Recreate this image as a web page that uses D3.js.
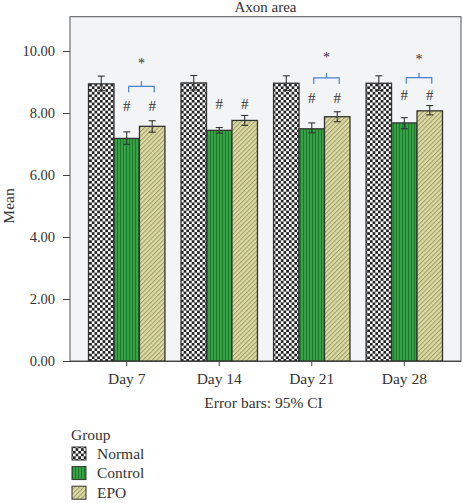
<!DOCTYPE html>
<html><head><meta charset="utf-8">
<script src="https://cdn.jsdelivr.net/npm/d3@7"></script>
<style>body{margin:0;background:#fff}svg{display:block}text{font-family:"Liberation Serif","DejaVu Serif",serif;fill:#333}</style>
</head><body>
<script>
const days = ["Day 7","Day 14","Day 21","Day 28"];
const groups = ["Normal","Control","EPO"];
const normalMean = [8.94, 8.97, 8.96, 8.96];
const normalLo   = [8.72, 8.74, 8.73, 8.73];
const normalHi   = [9.19, 9.21, 9.20, 9.20];
const controlMean = [7.18, 7.44, 7.49, 7.68];
const controlLo   = [6.99, 7.35, 7.36, 7.49];
const controlHi   = [7.39, 7.53, 7.68, 7.85];
const epoMean = [7.57, 7.76, 7.88, 8.07];
const epoLo   = [7.38, 7.60, 7.72, 7.94];
const epoHi   = [7.75, 7.92, 8.04, 8.24];
const yTicks = [0, 2, 4, 6, 8, 10];
const hashLevel = [8.16, 8.23, 8.42, 8.52];
const starDays = ["Day 7","Day 21","Day 28"];
const bracketLevel = [8.86, 9.13, 9.14];
const starLevel = [9.55, 9.75, 9.7];

const W = 463, H = 503;
const L = 70, R = 461, T = 16.7, B = 361;
const svg = d3.select("body").append("svg").attr("width", W).attr("height", H);
const defs = svg.append("defs");

// patterns
const pc = defs.append("pattern").attr("id","chk").attr("patternUnits","userSpaceOnUse").attr("width",5.4).attr("height",5.4);
pc.append("rect").attr("width",5.4).attr("height",5.4).attr("fill","#fff");
pc.append("rect").attr("width",2.7).attr("height",2.7).attr("fill","#222");
pc.append("rect").attr("x",2.7).attr("y",2.7).attr("width",2.7).attr("height",2.7).attr("fill","#222");

const pg = defs.append("pattern").attr("id","grn").attr("patternUnits","userSpaceOnUse").attr("width",3).attr("height",3);
pg.append("rect").attr("width",3).attr("height",3).attr("fill","#38a046");
pg.append("rect").attr("width",1).attr("height",3).attr("fill","#1c7a2b");

const pe = defs.append("pattern").attr("id","epo").attr("patternUnits","userSpaceOnUse").attr("width",3.2).attr("height",3.2).attr("patternTransform","rotate(-45)");
pe.append("rect").attr("width",3.2).attr("height",3.2).attr("fill","#dcdaa6");
pe.append("rect").attr("width",3.2).attr("height",1).attr("fill","#9e9b63");

const fills = {Normal:"url(#chk)", Control:"url(#grn)", EPO:"url(#epo)"};

const x0 = d3.scaleBand().domain(days).range([L, R]).paddingInner(0.174).paddingOuter(0.2);
const x1 = d3.scaleBand().domain(groups).range([0, x0.bandwidth()]);
const y = d3.scaleLinear().domain([0, 10]).range([B, B - 310]);

// plot background + frame
svg.append("rect").attr("x",L).attr("y",T).attr("width",R-L).attr("height",B-T)
  .attr("fill","#f3f4f6").attr("stroke","#555").attr("stroke-width",1);

const data = [];
days.forEach((d,i)=>{
  data.push({day:d, g:"Normal", m:normalMean[i], lo:normalLo[i], hi:normalHi[i]});
  data.push({day:d, g:"Control", m:controlMean[i], lo:controlLo[i], hi:controlHi[i]});
  data.push({day:d, g:"EPO", m:epoMean[i], lo:epoLo[i], hi:epoHi[i]});
});

svg.append("g").selectAll("rect").data(data).join("rect")
  .attr("x", d=>x0(d.day)+x1(d.g))
  .attr("y", d=>y(d.m))
  .attr("width", x1.bandwidth())
  .attr("height", d=>y(0)-y(d.m))
  .attr("fill", d=>fills[d.g])
  .attr("stroke","#333").attr("stroke-width",1.3);

// error bars
const eb = svg.append("g").attr("stroke","#333").attr("stroke-width",1.1).attr("fill","none");
data.forEach(d=>{
  const cx = x0(d.day)+x1(d.g)+x1.bandwidth()/2;
  eb.append("line").attr("x1",cx).attr("x2",cx).attr("y1",y(d.lo)).attr("y2",y(d.hi));
  eb.append("line").attr("x1",cx-3.5).attr("x2",cx+3.5).attr("y1",y(d.lo)).attr("y2",y(d.lo));
  eb.append("line").attr("x1",cx-3.5).attr("x2",cx+3.5).attr("y1",y(d.hi)).attr("y2",y(d.hi));
});

// axes
const yAxis = svg.append("g").attr("transform",`translate(${L},0)`)
  .call(d3.axisLeft(y).tickValues(yTicks).tickFormat(d3.format(".2f")).tickSize(7).tickPadding(8));
yAxis.select(".domain").remove();
yAxis.selectAll("line").attr("stroke","#444");
yAxis.selectAll("text").attr("font-size",14.5).attr("fill","#333").style("font-family","Liberation Serif, serif");

const xAxis = svg.append("g").attr("transform",`translate(0,${B})`)
  .call(d3.axisBottom(x0).tickSize(5).tickPadding(7));
xAxis.select(".domain").attr("d",`M${L-7},0.5H${R}`).attr("stroke","#444");
xAxis.selectAll("line").attr("stroke","#444");
xAxis.selectAll("text").attr("font-size",15.5).attr("fill","#333").style("font-family","Liberation Serif, serif");

// hashes
const ann = svg.append("g");
days.forEach((d,i)=>{
  ["Control","EPO"].forEach(g=>{
    ann.append("text").attr("x", x0(d)+x1(g)+x1.bandwidth()/2).attr("y", y(hashLevel[i]))
      .attr("text-anchor","middle").attr("dominant-baseline","middle")
      .attr("font-size",15).text("#");
  });
});
// brackets and stars
starDays.forEach((d,i)=>{
  const xa = x0(d)+x1("Control")+x1.bandwidth()/2+2;
  const xb = x0(d)+x1("EPO")+x1.bandwidth()/2+2;
  const yb = y(bracketLevel[i]);
  const xm = (xa+xb)/2;
  ann.append("path").attr("d",`M${xa},${yb+6}V${yb}H${xb}V${yb+6}M${xm},${yb}V${yb-5}`)
    .attr("fill","none").attr("stroke","#4a7fcf").attr("stroke-width",1.2);
  ann.append("text").attr("x",xm).attr("y",y(starLevel[i])).attr("text-anchor","middle")
    .attr("dominant-baseline","middle").attr("font-size",14).text("*");
});

// titles
svg.append("text").attr("x",(L+R)/2).attr("y",12).attr("text-anchor","middle").attr("font-size",15).text("Axon area");
svg.append("text").attr("transform",`translate(14,${206}) rotate(-90)`).attr("text-anchor","middle").attr("font-size",15.5).text("Mean");
svg.append("text").attr("x",(L+R)/2 - 2).attr("y",408).attr("text-anchor","middle").attr("font-size",15.5).text("Error bars: 95% CI");

// legend
const lg = svg.append("g");
lg.append("text").attr("x",71).attr("y",440).attr("font-size",15.5).text("Group");
groups.forEach((g,i)=>{
  const yy = 447 + i*19.6;
  lg.append("rect").attr("x",72).attr("y",yy).attr("width",14).attr("height",13)
    .attr("fill",fills[g]).attr("stroke","#333").attr("stroke-width",1);
  lg.append("text").attr("x",97).attr("y",yy+11.5).attr("font-size",15.5).text(g);
});
</script>
</body></html>
